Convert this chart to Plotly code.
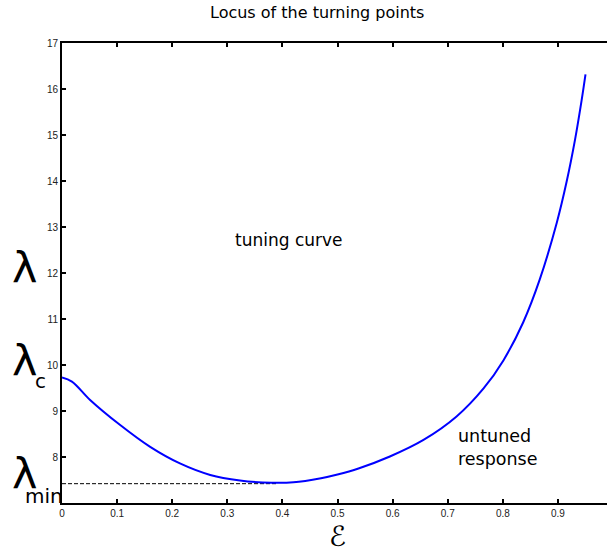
import plotly.graph_objects as go

# Locus of turning points
eps = [0.0, 0.018, 0.051, 0.105, 0.16, 0.214, 0.269, 0.323, 0.38, 0.42, 0.47,
       0.50, 0.538, 0.595, 0.656, 0.716, 0.765, 0.801, 0.837, 0.867, 0.898,
       0.916, 0.931, 0.943, 0.950]
lam = [9.73, 9.64, 9.24, 8.70, 8.22, 7.86, 7.61, 7.49, 7.44, 7.45, 7.54,
       7.62, 7.75, 8.01, 8.37, 8.88, 9.49, 10.10, 10.93, 11.86, 13.10,
       14.00, 14.90, 15.76, 16.32]

lam_min_x = [0.0, 0.39]
lam_min_y = [7.42, 7.42]

x_ticks = [0, 0.1, 0.2, 0.3, 0.4, 0.5, 0.6, 0.7, 0.8, 0.9]
x_tick_labels = ["0", "0.1", "0.2", "0.3", "0.4", "0.5", "0.6", "0.7", "0.8", "0.9"]
y_ticks = [7, 8, 9, 10, 11, 12, 13, 14, 15, 16, 17]
y_tick_labels = ["", "8", "9", "10", "11", "12", "13", "14", "15", "16", "17"]

W, H = 607, 552
L, T, B, R = 62, 43, 49, 0
pw, ph = W - L - R, H - T - B

def px(x):
    return (x - L) / pw

def py(y):
    return (H - B - y) / ph

fig = go.Figure()
fig.add_trace(go.Scatter(x=lam_min_x, y=lam_min_y, mode="lines",
                         line=dict(color="black", width=1, dash="4px,2px"),
                         showlegend=False, hoverinfo="skip"))
fig.add_trace(go.Scatter(x=eps, y=lam, mode="lines",
                         line=dict(color="#0000ff", width=2, shape="spline", smoothing=1.0),
                         showlegend=False))

sans = "DejaVu Sans"
ann = []
def A(text, x, y, size, xanchor="center", yanchor="middle", family=sans, align="left"):
    ann.append(dict(text=text, x=px(x), y=py(y), xref="paper", yref="paper",
                    showarrow=False, xanchor=xanchor, yanchor=yanchor,
                    font=dict(family=family, size=size, color="black"), align=align))

A("Locus of the turning points", 317, 13, 16)
A("tuning curve", 289, 240, 17)
A("untuned<br>response", 456, 447, 17.5, xanchor="left")
A("λ", 24, 268, 43)
A("λ", 24, 361, 43)
A("c", 40, 381, 20)
A("λ", 24, 474, 43)
A("min", 44, 496, 20)
A("ℰ", 337, 536, 28)

fig.update_layout(
    width=W, height=H,
    margin=dict(l=L, r=R, t=T, b=B),
    paper_bgcolor="white", plot_bgcolor="white",
    annotations=ann,
    xaxis=dict(range=[0, 0.989], tickvals=x_ticks, ticktext=x_tick_labels,
               ticks="inside", ticklen=4, tickwidth=1.5, tickcolor="black",
               showline=True, linecolor="black", linewidth=2, mirror="ticks",
               showgrid=False, zeroline=False,
               tickfont=dict(family="Liberation Sans", size=10, color="#222")),
    yaxis=dict(range=[7, 17], tickvals=y_ticks, ticktext=y_tick_labels,
               ticks="inside", ticklen=4, tickwidth=1.5, tickcolor="black",
               showline=True, linecolor="black", linewidth=2, mirror=False,
               showgrid=False, zeroline=False,
               tickfont=dict(family="Liberation Sans", size=10, color="#222")),
)

fig.write_html("out.html")
